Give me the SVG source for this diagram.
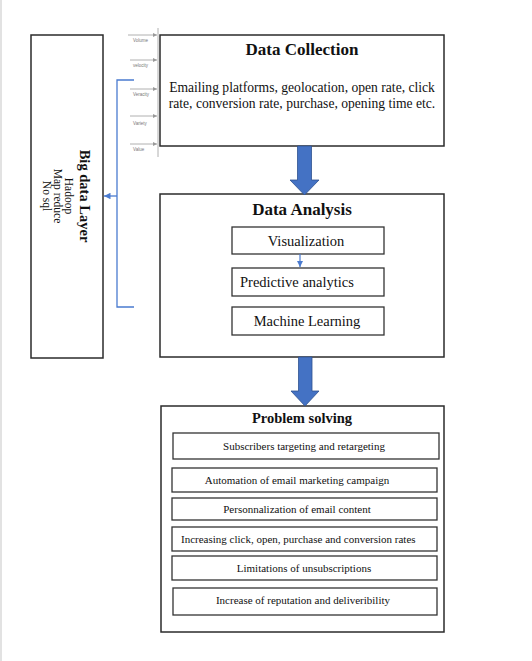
<svg xmlns="http://www.w3.org/2000/svg" width="532" height="661" viewBox="0 0 532 661">
<defs>
<style>
.box{fill:#fff;stroke:#2b2b2b;stroke-width:1.5}
.sub{fill:#fff;stroke:#333;stroke-width:1.3}
.t{font-family:"Liberation Serif","Times New Roman",serif;fill:#111}
.h{font-weight:bold;font-size:17px;text-anchor:middle}
.m{font-size:14.5px}
.d{font-size:13.6px;text-anchor:middle}
.s{font-size:11px;text-anchor:middle}
.tiny{font-family:"Liberation Sans",Arial,sans-serif;font-size:4.5px;fill:#777}
.g{stroke:#b0b0b0;stroke-width:1;fill:none}
.big{fill:#4472C4;stroke:#2F528F;stroke-width:0.8}
.br{fill:none;stroke:#4A7BD0;stroke-width:1.3}
</style>
<marker id="ga" viewBox="0 0 6 6" refX="6" refY="3" markerWidth="4" markerHeight="4" orient="auto"><path d="M0,0 L6,3 L0,6 z" fill="#999"/></marker>
<marker id="ba" viewBox="0 0 6 6" refX="6" refY="3" markerWidth="5" markerHeight="5" orient="auto"><path d="M0,0 L6,3 L0,6 z" fill="#4A7BD0"/></marker>
</defs>
<rect width="532" height="661" fill="#fff"/>
<line x1="1" y1="0" x2="1" y2="661" stroke="#d8d8d8" stroke-width="1.5"/>

<g id="bigdata">
<rect class="box" x="31" y="35" width="72" height="323"/>
<g transform="translate(85,196) rotate(90)">
<text class="t" x="0" y="0" font-weight="bold" font-size="14.5" text-anchor="middle" dominant-baseline="central">Big data Layer</text>
<text class="t" x="0" y="16" font-size="11.5" text-anchor="middle" dominant-baseline="central">Hadoop</text>
<text class="t" x="0" y="27" font-size="11.5" text-anchor="middle" dominant-baseline="central">Map reduce</text>
<text class="t" x="0" y="38" font-size="11.5" text-anchor="middle" dominant-baseline="central">No sql</text>
</g>
</g>

<g id="vs">
<line class="g" x1="158" y1="28" x2="158" y2="157"/>
<line class="g" x1="128" y1="35" x2="157" y2="35" marker-end="url(#ga)"/>
<line class="g" x1="130" y1="60" x2="157" y2="60" marker-end="url(#ga)"/>
<line class="g" x1="130" y1="89" x2="157" y2="89" marker-end="url(#ga)"/>
<line class="g" x1="130" y1="116" x2="157" y2="116" marker-end="url(#ga)"/>
<line class="g" x1="130" y1="144" x2="157" y2="144" marker-end="url(#ga)"/>
<text class="tiny" x="133" y="42">Volume</text>
<text class="tiny" x="133" y="67">velocity</text>
<text class="tiny" x="133" y="96">Veracity</text>
<text class="tiny" x="133" y="125">Variety</text>
<text class="tiny" x="133" y="151">Value</text>
</g>

<g id="collection">
<rect class="box" x="160" y="35" width="284" height="111"/>
<text class="t h" x="302" y="55">Data Collection</text>
<text class="t d" x="302" y="92">Emailing platforms, geolocation, open rate, click</text>
<text class="t d" x="302" y="108">rate, conversion rate, purchase, opening time etc.</text>
</g>

<g id="analysis">
<rect class="box" x="160" y="194" width="284" height="163"/>
<text class="t h" x="302" y="215">Data Analysis</text>
<g id="visualization"><rect class="sub" x="232" y="227" width="152" height="27"/><text class="t m" x="306" y="245.5" text-anchor="middle">Visualization</text></g>
<g id="predictive"><rect class="sub" x="232" y="268" width="152" height="28"/><text class="t m" x="240" y="287">Predictive analytics</text></g>
<g id="ml"><rect class="sub" x="232" y="307" width="152" height="28"/><text class="t m" x="307" y="326" text-anchor="middle">Machine Learning</text></g>
</g>

<g id="problem">
<rect class="box" x="161" y="406" width="283" height="226"/>
<text class="t" x="302" y="423" font-weight="bold" font-size="14.5" text-anchor="middle">Problem solving</text>
<g id="p1"><rect class="sub" x="173" y="433" width="266" height="26"/><text class="t s" x="304" y="449.5">Subscribers targeting and retargeting</text></g>
<g id="p2"><rect class="sub" x="172" y="468" width="265" height="24"/><text class="t s" x="297" y="483.5">Automation of email marketing campaign</text></g>
<g id="p3"><rect class="sub" x="172" y="498" width="265" height="22"/><text class="t s" x="297" y="512.5">Personnalization of email content</text></g>
<g id="p4"><rect class="sub" x="172" y="527" width="265" height="24"/><text class="t" x="181" y="542.5" font-size="11">Increasing click, open, purchase and conversion rates</text></g>
<g id="p5"><rect class="sub" x="172" y="556" width="265" height="24"/><text class="t s" x="304" y="571.5">Limitations of unsubscriptions</text></g>
<g id="p6"><rect class="sub" x="173" y="588" width="264" height="27"/><text class="t s" x="303" y="603.5">Increase of reputation and deliveribility</text></g>
</g>

<g id="connectors">
<path class="big" d="M297.5,146 L311.5,146 L311.5,180 L319,180 L304.5,195 L290,180 L297.5,180 Z"/>
<path class="big" d="M298.5,357 L312,357 L312,391 L319,391 L305,406 L291,391 L298.5,391 Z"/>
<line x1="300" y1="254" x2="300" y2="267" stroke="#4A7BD0" stroke-width="1.2" marker-end="url(#ba)"/>
<path class="br" d="M134,80 L117,80 L117,307 L134,307"/>
<line class="br" x1="117" y1="196" x2="104" y2="196" marker-end="url(#ba)"/>
</g>
</svg>
